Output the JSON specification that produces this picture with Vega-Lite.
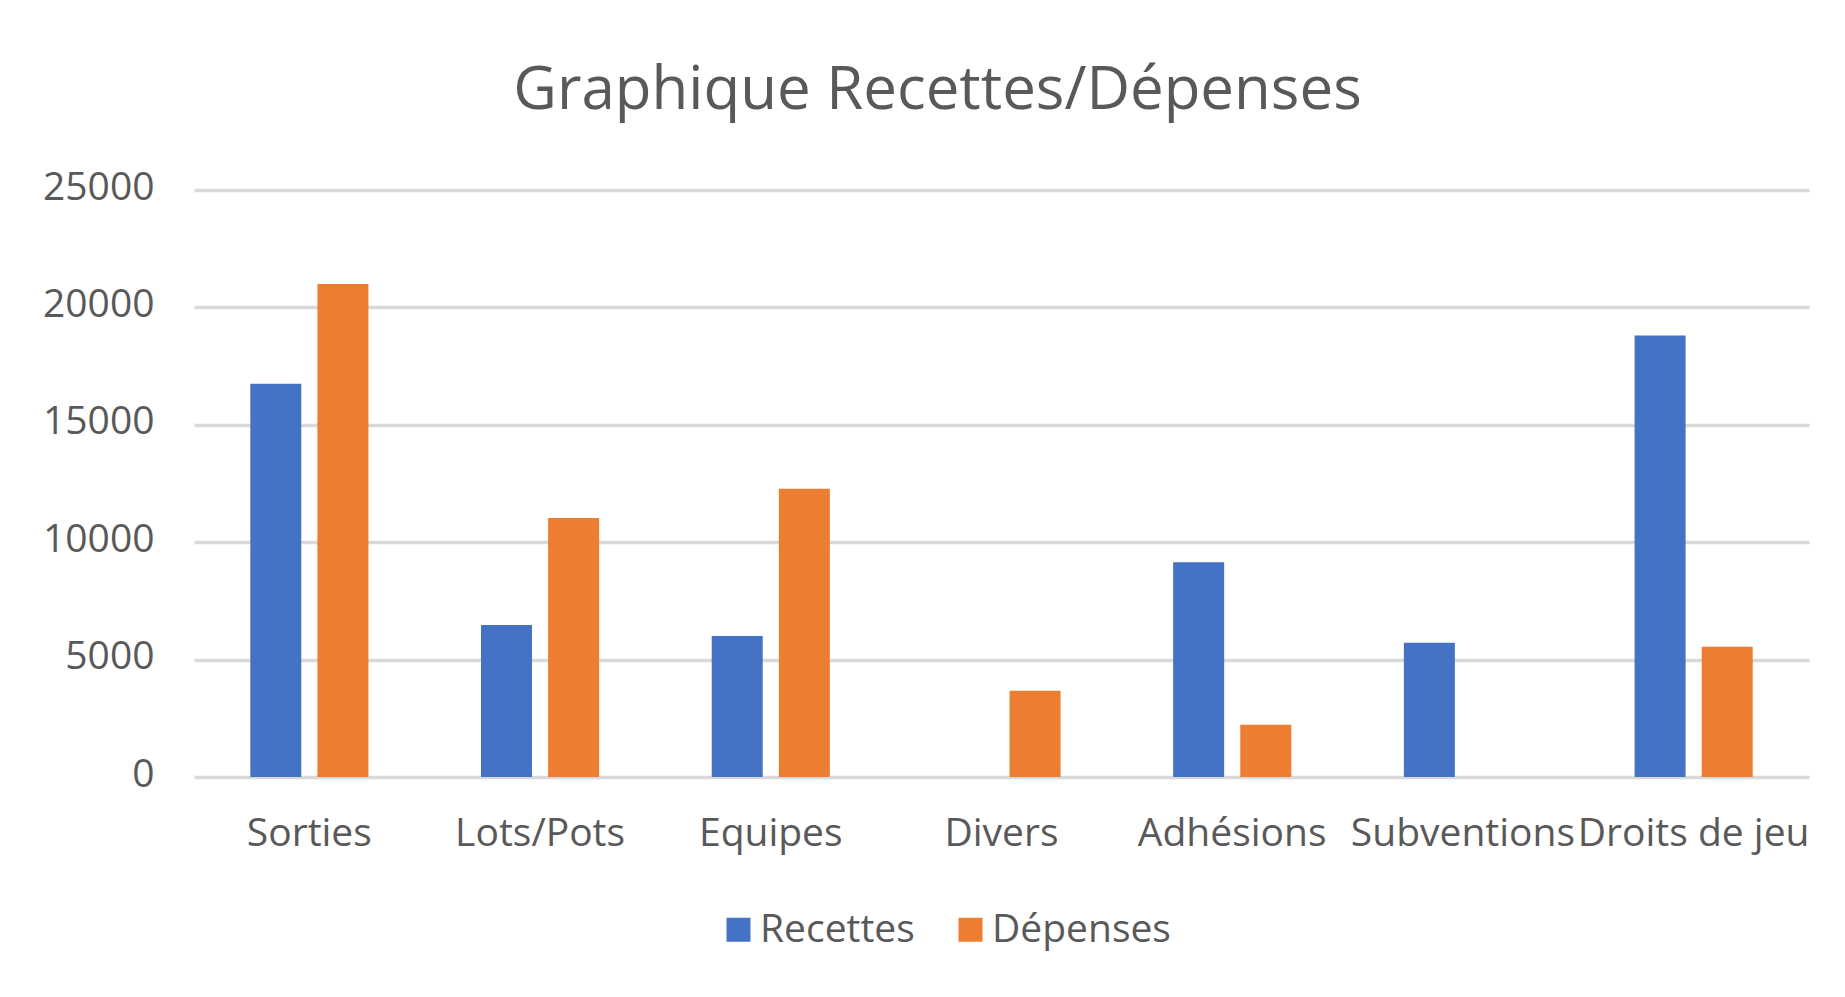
{
  "$schema": "https://vega.github.io/schema/vega-lite/v6.json",
  "width": 1615,
  "height": 587,
  "autosize": {"type": "none"},
  "padding": {"left": 194, "top": 190, "right": 36, "bottom": 220},
  "background": "#ffffff",
  "title": {
    "text": "Graphique Recettes/Dépenses",
    "font": "Open Sans",
    "fontSize": 60,
    "fontWeight": "normal",
    "color": "#595959",
    "anchor": "middle",
    "frame": "group",
    "dx": -64,
    "offset": 46
  },
  "data": {
    "values": [
      {"categorie": "Sorties", "serie": "Recettes", "montant": 16750},
      {"categorie": "Sorties", "serie": "Dépenses", "montant": 21000},
      {"categorie": "Lots/Pots", "serie": "Recettes", "montant": 6470},
      {"categorie": "Lots/Pots", "serie": "Dépenses", "montant": 11030},
      {"categorie": "Equipes", "serie": "Recettes", "montant": 6000},
      {"categorie": "Equipes", "serie": "Dépenses", "montant": 12280},
      {"categorie": "Divers", "serie": "Recettes", "montant": 0},
      {"categorie": "Divers", "serie": "Dépenses", "montant": 3670},
      {"categorie": "Adhésions", "serie": "Recettes", "montant": 9150},
      {"categorie": "Adhésions", "serie": "Dépenses", "montant": 2220},
      {"categorie": "Subventions", "serie": "Recettes", "montant": 5720},
      {"categorie": "Subventions", "serie": "Dépenses", "montant": 0},
      {"categorie": "Droits de jeu", "serie": "Recettes", "montant": 18800},
      {"categorie": "Droits de jeu", "serie": "Dépenses", "montant": 5550}
    ]
  },
  "mark": {"type": "bar"},
  "encoding": {
    "x": {
      "field": "categorie",
      "type": "nominal",
      "sort": null,
      "scale": {"paddingInner": 0.488, "paddingOuter": 0.244},
      "axis": {
        "title": null,
        "labelAngle": 0,
        "domain": false,
        "ticks": false,
        "grid": false,
        "labelFont": "Open Sans",
        "labelFontSize": 39,
        "labelColor": "#595959",
        "labelPadding": 37,
        "labelOverlap": false,
        "labelBound": false,
        "labelLimit": 0
      }
    },
    "xOffset": {
      "field": "serie",
      "type": "nominal",
      "sort": ["Recettes", "Dépenses"],
      "scale": {"paddingInner": 0.24, "paddingOuter": 0}
    },
    "y": {
      "field": "montant",
      "type": "quantitative",
      "scale": {"domain": [0, 25000], "nice": false},
      "axis": {
        "title": null,
        "values": [0, 5000, 10000, 15000, 20000, 25000],
        "format": "d",
        "domain": false,
        "ticks": false,
        "grid": true,
        "gridColor": "#D9D9D9",
        "gridWidth": 3.5,
        "labelFont": "Open Sans",
        "labelFontSize": 39,
        "labelColor": "#595959",
        "labelPadding": 40,
        "labelOffset": -3
      }
    },
    "color": {
      "field": "serie",
      "type": "nominal",
      "sort": ["Recettes", "Dépenses"],
      "scale": {"domain": ["Recettes", "Dépenses"], "range": ["#4472C4", "#ED7D31"]},
      "legend": {
        "title": null,
        "orient": "none",
        "direction": "horizontal",
        "legendX": 525,
        "legendY": 720,
        "padding": 0,
        "symbolType": "square",
        "symbolSize": 576,
        "symbolStrokeWidth": 0,
        "symbolOpacity": 1,
        "labelFont": "Open Sans",
        "labelFontSize": 39,
        "labelColor": "#595959",
        "labelOffset": 2,
        "labelLimit": 0,
        "columnPadding": 36
      }
    }
  },
  "config": {
    "view": {"stroke": null},
    "axis": {"gridOpacity": 1}
  }
}
